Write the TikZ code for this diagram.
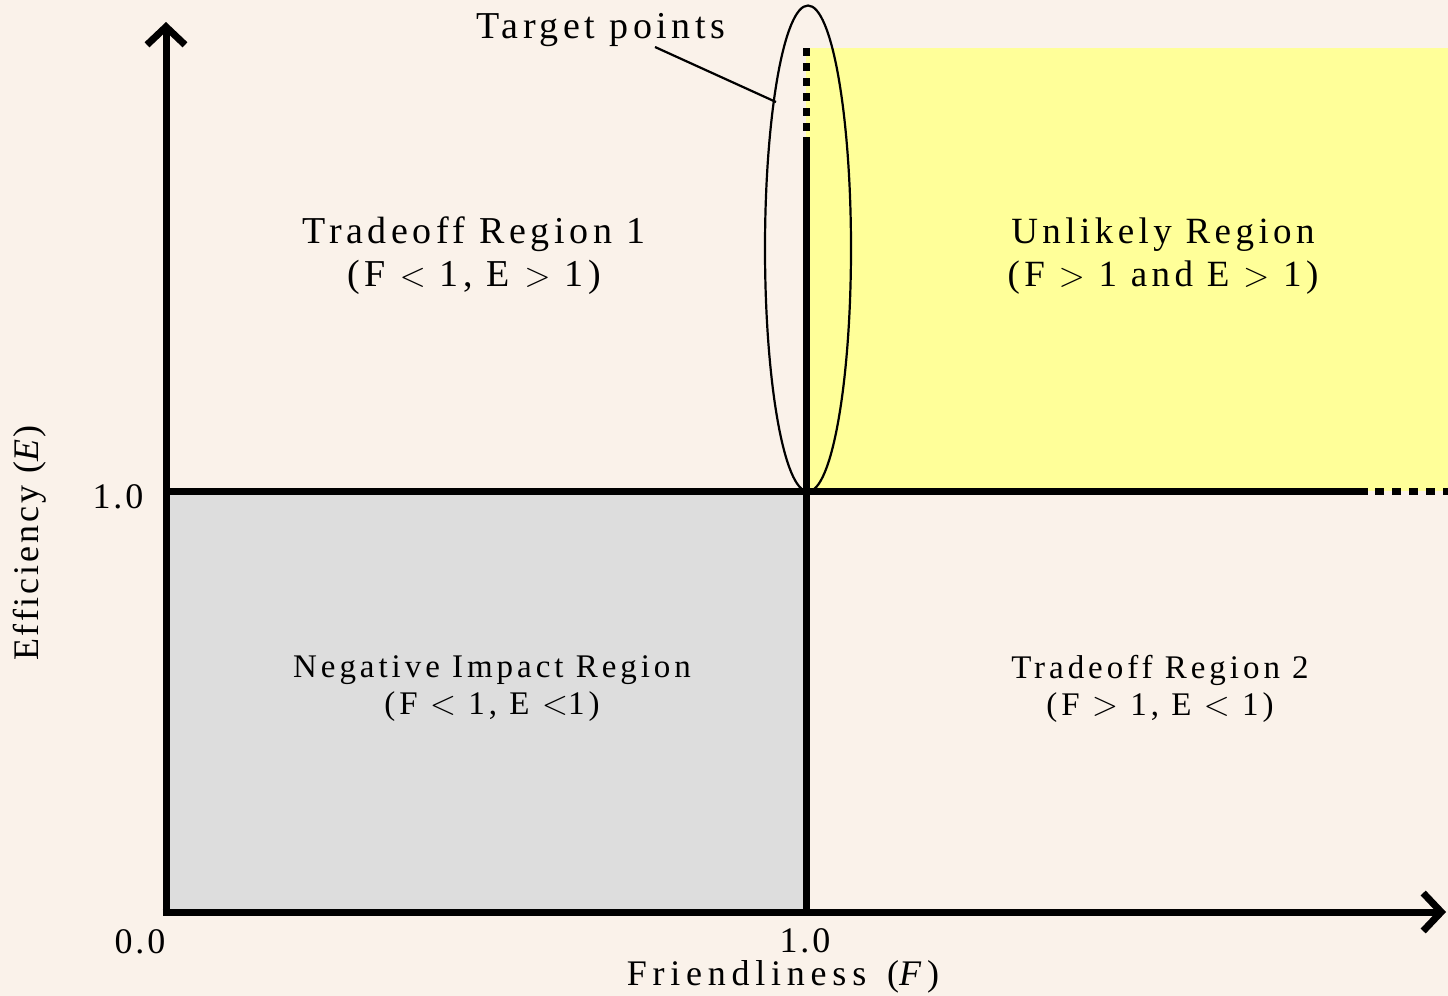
\documentclass[tikz,border=0pt]{standalone}
\usepackage{fontspec}
\setmainfont{Liberation Serif}
\usetikzlibrary{arrows.meta}
\definecolor{bgc}{RGB}{250,242,234}
\definecolor{yel}{RGB}{255,255,153}
\definecolor{gry}{RGB}{221,221,221}
\tikzset{
  thick line/.style={line width=3.5pt},
  axis/.style={line width=3.5pt, -{Straight Barb[length=9pt,width=19pt,line width=3.5pt]}},
  big/.style={align=center, font=\fontsize{19}{21.5}\selectfont\addfontfeature{LetterSpace=12}},
  small/.style={align=center, font=\fontsize{16.5}{18.5}\selectfont\addfontfeature{LetterSpace=12}},
  tick/.style={inner sep=0pt, font=\fontsize{18}{20}\selectfont\addfontfeature{LetterSpace=8}},
}
\begin{document}
\begin{tikzpicture}[x=0.5pt,y=-0.5pt]
\fill[bgc] (0,0) rectangle (1448,996);
\useasboundingbox (0,0) rectangle (1448,996);
\fill[yel] (806,48) rectangle (1448,491);
\fill[gry] (166,491) rectangle (806,912);
% coordinates
\coordinate (O) at (166,912);
\coordinate (Ytop) at (166,22);
\coordinate (Xend) at (1446,912);
\coordinate (Yone) at (166,491);
\coordinate (Hsolid) at (1368,491);
\coordinate (Hdash) at (1375,491);
\coordinate (Hend) at (1452,491);
\coordinate (Fbot) at (806,912);
\coordinate (Fsolid) at (806,137);
\coordinate (Ftop) at (806,48);
% lines
\draw[thick line] (Yone) -- (Hsolid);
\draw[line width=3.5pt, dash pattern=on 4.5pt off 4pt] (Hdash) -- (Hend);
\draw[thick line] (Fbot) -- (Fsolid);
\draw[line width=3.5pt, dash pattern=on 4pt off 3.5pt] (Ftop) -- (Fsolid);
\draw[axis] (O) ++(0,3.5) -- (Ytop);
\draw[axis] (O) ++(-3.5,0) -- (Xend);
% ellipse
\draw[line width=1.1pt] (808,248.5) ellipse [x radius=21.5pt, y radius=121.5pt];
\coordinate (Ept) at (776,102);
% labels
\node[big] (tp) at (601,30) {Target points};
\draw[line width=1.1pt] (655,47) -- (Ept);
\node[big] (tr1) at (474,256) {Tradeoff Region 1\\(F {$<$} 1, E {$>$} 1)};
\node[big, font=\fontsize{18.5}{21.5}\selectfont\addfontfeature{LetterSpace=12}] (ur) at (1163,256) {Unlikely Region\\(F {$>$} 1 and E {$>$} 1)};
\node[small] (nir) at (492,689) {Negative Impact Region\\(F {$<$} 1, E {$<$}1)};
\node[small] (tr2) at (1160,689) {Tradeoff Region 2\\(F {$>$} 1, E {$<$} 1)};
\node[tick] (y1) at (118,497) {1.0};
\node[tick] (x0) at (140,942) {0.0};
\node[tick] (x1) at (805,941) {1.0};
\node[tick, font=\fontsize{18}{20}\selectfont\addfontfeature{LetterSpace=16}] (xl) at (783,977) {Friendliness\, (\textit{F})};
\node[tick, rotate=90] (yl) at (30,543) {Efficiency (\textit{E})};
\end{tikzpicture}
\end{document}
